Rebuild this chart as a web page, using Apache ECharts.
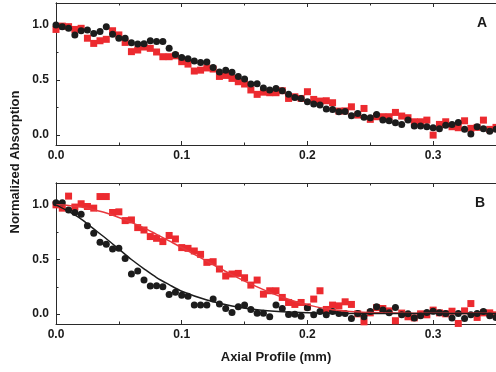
<!DOCTYPE html>
<html>
<head>
<meta charset="utf-8">
<script src="https://cdn.jsdelivr.net/npm/echarts@6/dist/echarts.min.js"></script>
<style>
html,body{margin:0;padding:0;background:#fff;}
#c{width:496px;height:372px;}
</style>
</head>
<body>
<div id="c"></div>
<script>
// Axial positions (mm)
const xPos = [0,0.005,0.01,0.015,0.02,0.025,0.03,0.035,0.04,0.045,0.05,0.055,0.06,0.065,0.07,0.075,0.08,0.085,0.09,0.095,
  0.1,0.105,0.11,0.115,0.12,0.125,0.13,0.135,0.14,0.145,0.15,0.155,0.16,0.165,0.17,0.175,0.18,0.185,0.19,0.195,
  0.2,0.205,0.21,0.215,0.22,0.225,0.23,0.235,0.24,0.245,0.25,0.255,0.26,0.265,0.27,0.275,0.28,0.285,0.29,0.295,
  0.3,0.305,0.31,0.315,0.32,0.325,0.33,0.335,0.34,0.345,0.35];

// Panel A
const aBlack = [1.0,0.985,0.97,0.91,0.948,0.955,0.924,0.94,0.985,0.915,0.88,0.88,0.84,0.827,0.83,0.857,0.85,0.85,0.79,0.733,
  0.706,0.694,0.673,0.66,0.664,0.615,0.573,0.59,0.57,0.533,0.51,0.464,0.467,0.427,0.41,0.424,0.403,0.37,0.342,0.333,
  0.303,0.282,0.273,0.236,0.233,0.212,0.215,0.176,0.197,0.161,0.158,0.188,0.136,0.13,0.112,0.097,0.136,0.082,0.082,0.076,
  0.067,0.058,0.09,0.097,0.115,0.052,0.009,0.076,0.058,0.036,0.052];
const aRed = [0.96,0.99,0.985,0.96,0.97,0.88,0.833,0.857,0.87,0.948,0.91,0.842,0.758,0.773,0.8,0.788,0.755,0.712,0.712,0.72,
  0.667,0.645,0.582,0.59,0.61,0.6,0.533,0.542,0.515,0.485,0.464,0.41,0.37,0.39,0.385,0.385,0.403,0.333,0.348,0.333,
  0.394,0.324,0.309,0.312,0.294,0.218,0.22,0.257,0.182,0.242,0.143,0.167,0.167,0.167,0.206,0.173,0.158,0.121,0.121,0.136,
  0.0,0.097,0.121,0.076,0.067,0.13,0.061,0.07,0.136,0.052,0.07];

// Panel B
const bBlack = [1.02,1.02,0.954,0.93,0.914,0.81,0.74,0.657,0.64,0.596,0.602,0.51,0.367,0.394,0.312,0.257,0.26,0.25,0.18,0.2,
  0.174,0.165,0.083,0.083,0.083,0.138,0.092,0.052,0.015,0.067,0.083,0.043,0.009,0.009,-0.024,0.083,0.052,-0.003,0.0,-0.018,
  0.058,-0.006,0.024,-0.006,0.024,0.006,0.006,-0.04,0.006,-0.024,0.024,0.067,0.037,0.012,0.061,-0.006,0.003,-0.034,-0.015,0.015,
  0.027,0.012,0.006,-0.034,0.006,-0.04,-0.006,0.006,0.024,-0.015,-0.03];
const bRed = [1.0,0.97,1.08,0.98,1.01,0.985,0.97,1.076,1.076,0.93,0.936,0.856,0.862,0.792,0.77,0.71,0.694,0.664,0.72,0.688,
  0.609,0.602,0.578,0.547,0.474,0.48,0.413,0.349,0.367,0.373,0.333,0.266,0.312,0.183,0.214,0.214,0.153,0.107,0.089,0.107,
  0.067,0.138,0.214,0.043,0.083,0.076,0.113,0.089,0.003,-0.07,0.012,0.06,0.052,0.03,-0.06,0.01,-0.024,-0.034,0.003,-0.006,
  0.037,0.012,0.003,0.027,-0.085,0.03,0.097,-0.03,0.012,0.012,-0.006];

// Fit curves (panel B)
const fitX = [0,0.01,0.02,0.03,0.04,0.05,0.06,0.07,0.08,0.09,0.1,0.12,0.14,0.16,0.18,0.2,0.22,0.24,0.26,0.3,0.35];
const fitBlack = [1.0,0.94,0.87,0.78,0.69,0.595,0.5,0.415,0.335,0.27,0.21,0.13,0.075,0.04,0.022,0.012,0.008,0.006,0.006,0.005,0.005];
const fitRed = [1.0,0.995,0.98,0.955,0.925,0.885,0.84,0.79,0.73,0.67,0.61,0.485,0.36,0.25,0.155,0.085,0.04,0.02,0.012,0.008,0.008];

const xTicks = [0, 0.1, 0.2, 0.3];
const yMajor = [0, 0.5, 1.0];
const yMinor = [0.25, 0.75];
const panelLabels = ['A', 'B'];

const pair = (xs, ys) => xs.map((x, i) => [x, ys[i]]);

const txt = '#1a1a1a';
const lineC = '#2a2a2a';
const font = {fontFamily: 'Liberation Sans, Arial, sans-serif', fontWeight: 'bold', fontSize: 12, color: txt};

function xAx(gi, pos, labels, name) {
  const o = {
    type: 'value', gridIndex: gi, position: pos, min: 0, max: 0.35, interval: 0.1,
    axisLine: {show: true, onZero: false, lineStyle: {color: lineC, width: 1}},
    axisTick: {show: true, inside: true, length: 4, lineStyle: {color: lineC}},
    minorTick: {show: true, splitNumber: 2, length: 2.5, lineStyle: {color: lineC}},
    splitLine: {show: false},
    axisLabel: labels ? Object.assign({show: true, margin: 5, customValues: xTicks, formatter: v => v.toFixed(1)}, font) : {show: false}
  };
  if (name) {
    o.name = name; o.nameLocation = 'middle'; o.nameGap = 27;
    o.nameTextStyle = Object.assign({}, font, {fontSize: 13});
  }
  return o;
}
function yAx(gi, vals, len, labels) {
  return {
    type: 'value', gridIndex: gi, position: 'left', min: -0.09, max: 1.2,
    axisLine: {show: true, onZero: false, lineStyle: {color: lineC, width: 1}},
    axisTick: {show: true, inside: true, length: len, customValues: vals, lineStyle: {color: lineC}},
    splitLine: {show: false},
    axisLabel: labels ? Object.assign({show: true, margin: 7, customValues: vals, formatter: v => v.toFixed(1)}, font) : {show: false}
  };
}

const redStyle = {color: '#ec2a2f', opacity: 1};
const blackStyle = {color: '#1c1c1c', opacity: 1};

const chart = echarts.init(document.getElementById('c'), null, {renderer: 'canvas'});
chart.setOption({
  animation: false,
  backgroundColor: '#fff',
  grid: [
    {left: 56, top: 3, width: 441, height: 142},
    {left: 56, top: 183, width: 441, height: 141}
  ],
  xAxis: [
    xAx(0, 'bottom', true), xAx(0, 'top', false),
    xAx(1, 'bottom', true, 'Axial Profile (mm)'), xAx(1, 'top', false)
  ],
  yAxis: [
    yAx(0, yMajor, 4, true), yAx(0, yMinor, 2.5, false),
    yAx(1, yMajor, 4, true), yAx(1, yMinor, 2.5, false)
  ],
  graphic: [
    {type: 'text', x: 15, y: 162, rotation: Math.PI / 2,
     style: {text: 'Normalized Absorption', font: 'bold 13px "Liberation Sans", Arial, sans-serif', fill: txt,
             align: 'center', verticalAlign: 'middle'}},
    {type: 'text', x: 482, y: 23, style: {text: panelLabels[0], font: 'bold 14px "Liberation Sans", Arial, sans-serif', fill: txt, align: 'center', verticalAlign: 'middle'}},
    {type: 'text', x: 480, y: 203, style: {text: panelLabels[1], font: 'bold 14px "Liberation Sans", Arial, sans-serif', fill: txt, align: 'center', verticalAlign: 'middle'}}
  ],
  series: [
    {type: 'scatter', xAxisIndex: 0, yAxisIndex: 0, data: pair(xPos, aRed), symbol: 'rect', symbolSize: 7, itemStyle: redStyle},
    {type: 'scatter', xAxisIndex: 0, yAxisIndex: 0, data: pair(xPos, aBlack), symbol: 'circle', symbolSize: 7, itemStyle: blackStyle},
    {type: 'line', xAxisIndex: 2, yAxisIndex: 2, data: pair(fitX, fitRed), smooth: 0.3, showSymbol: false, lineStyle: {color: '#e8383d', width: 1.5}},
    {type: 'line', xAxisIndex: 2, yAxisIndex: 2, data: pair(fitX, fitBlack), smooth: 0.3, showSymbol: false, lineStyle: {color: '#1c1c1c', width: 1.5}},
    {type: 'scatter', xAxisIndex: 2, yAxisIndex: 2, data: pair(xPos, bRed), symbol: 'rect', symbolSize: 7, itemStyle: redStyle},
    {type: 'scatter', xAxisIndex: 2, yAxisIndex: 2, data: pair(xPos, bBlack), symbol: 'circle', symbolSize: 7, itemStyle: blackStyle}
  ]
});
</script>
</body>
</html>
